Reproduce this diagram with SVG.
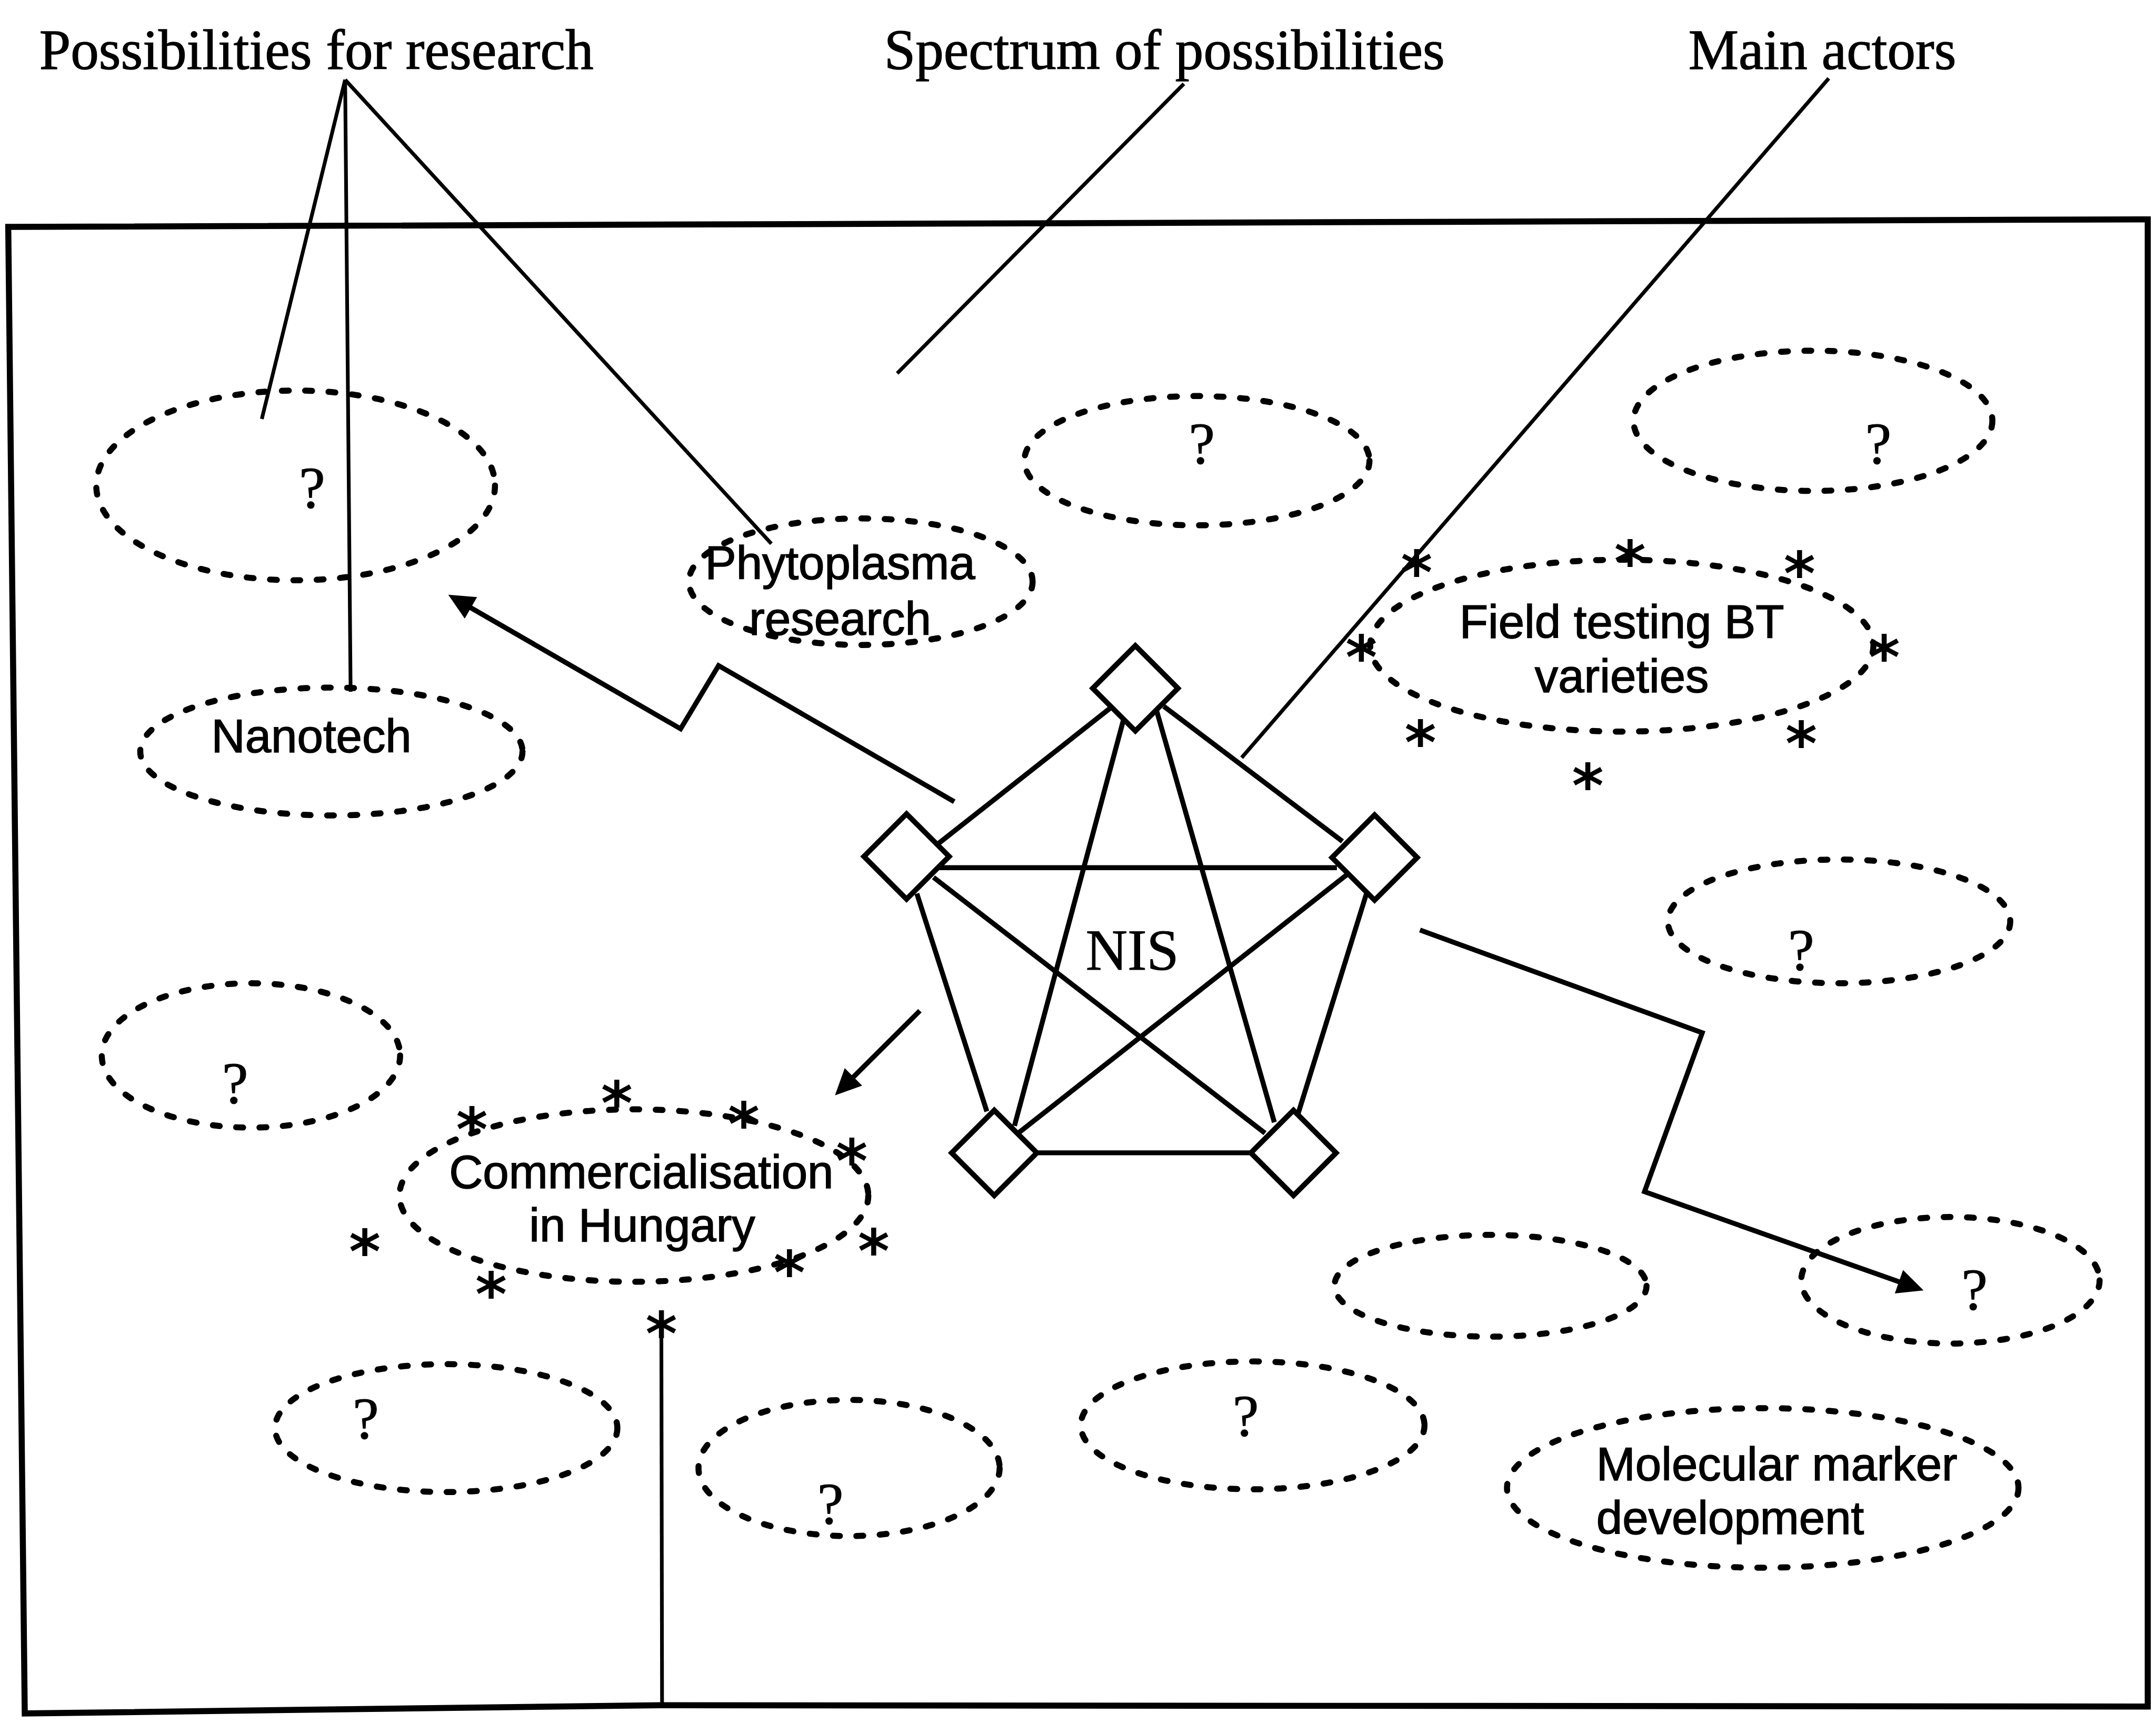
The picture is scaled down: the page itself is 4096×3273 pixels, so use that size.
<svg xmlns="http://www.w3.org/2000/svg" xmlns:xlink="http://www.w3.org/1999/xlink" width="4096" height="3273" viewBox="0 0 4096 3273">
  <style>
    .frame { fill: none; stroke: #000; stroke-width: 4.4; stroke-linejoin: miter; }
    .dash { fill: none; stroke: #000; stroke-width: 4.4; stroke-dasharray: 5 12; stroke-linecap: round; }
    .edge { fill: none; stroke: #000; stroke-width: 3.6; stroke-linejoin: miter; }
    .lead { fill: none; stroke: #000; stroke-width: 2.7; }
    .dia { fill: #fff; stroke: #000; stroke-width: 3.8; stroke-linejoin: miter; }
    .lbl { font-family: "Liberation Serif", "Times New Roman", serif; font-size: 41px; fill: #000; stroke: #000; stroke-width: 0.5; }
    .nis { font-family: "Liberation Serif", "Times New Roman", serif; font-size: 42px; fill: #000; text-anchor: middle; stroke: #000; stroke-width: 0.4; }
    .txt { font-family: "Liberation Sans", Arial, sans-serif; font-size: 34px; fill: #000; text-anchor: middle; stroke: #000; stroke-width: 0.6; }
    .txs { font-family: "Liberation Sans", Arial, sans-serif; font-size: 34px; fill: #000; stroke: #000; stroke-width: 0.6; }
    .q { font-family: "Liberation Serif", "Times New Roman", serif; font-size: 43px; fill: #000; text-anchor: middle; stroke: #000; stroke-width: 0.4; }
    .ast { font-family: "DejaVu Sans", sans-serif; font-size: 44px; font-weight: bold; fill: #000; text-anchor: middle; }
  </style>
  <defs>
    <marker id="ah" markerUnits="userSpaceOnUse" markerWidth="26" markerHeight="22" viewBox="-20 -11 26 22" refX="-6" refY="0" orient="auto">
      <path d="M0,0 L-19,-9 L-19,9 Z" fill="#000"/>
    </marker>
    <polygon id="diamond" points="0,-31 31,0 0,31 -31,0"/>
  </defs>

  <rect width="4096" height="3273" fill="#fff"/>

  <g transform="scale(2.612245)">
    <!-- outer frame -->
    <polygon class="frame" points="6,165 1562,159.5 1562,1241 480,1240 18,1246"/>

    <!-- heading labels -->
    <g id="label-research">
      <text class="lbl" x="28.6" y="50">Possibilities for research</text>
    </g>
    <g id="label-spectrum">
      <text class="lbl" x="643" y="50">Spectrum of possibilities</text>
    </g>
    <g id="label-actors">
      <text class="lbl" x="1228" y="50">Main actors</text>
    </g>

    <!-- dashed possibility ellipses -->
    <g id="opt-q1"><ellipse class="dash" cx="215" cy="353" rx="145" ry="69"/><text class="q" x="227" y="369">?</text></g>
    <g id="opt-phytoplasma"><ellipse class="dash" cx="626" cy="423" rx="125" ry="46"/>
      <text class="txt" x="611" y="421">Phytoplasma</text><text class="txt" x="611" y="461.5">research</text></g>
    <g id="opt-q2"><ellipse class="dash" cx="870.5" cy="335" rx="125.5" ry="47"/><text class="q" x="874" y="337">?</text></g>
    <g id="opt-q3"><ellipse class="dash" cx="1318.5" cy="306" rx="130.5" ry="51"/><text class="q" x="1366" y="337">?</text></g>
    <g id="opt-field-testing"><ellipse class="dash" cx="1179.5" cy="469.5" rx="183" ry="62.5"/>
      <text class="txt" x="1179.5" y="464">Field testing BT</text><text class="txt" x="1179.5" y="503.5">varieties</text>
      <g class="ast-set">
        <text class="ast" x="1030.3" y="432">*</text>
        <text class="ast" x="1185.5" y="424.4">*</text>
        <text class="ast" x="1308.8" y="432.7">*</text>
        <text class="ast" x="990.1" y="493.5">*</text>
        <text class="ast" x="1370.3" y="493.5">*</text>
        <text class="ast" x="1033" y="555.6">*</text>
        <text class="ast" x="1310" y="556.3">*</text>
        <text class="ast" x="1154.8" y="587">*</text>
      </g>
    </g>
    <g id="opt-nanotech"><ellipse class="dash" cx="241" cy="546.5" rx="139" ry="46.5"/><text class="txt" x="226.5" y="547">Nanotech</text></g>
    <g id="opt-q4"><ellipse class="dash" cx="1337.5" cy="670" rx="124.5" ry="45"/><text class="q" x="1310" y="705">?</text></g>
    <g id="opt-q5"><ellipse class="dash" cx="182.5" cy="767.5" rx="108.5" ry="52.5"/><text class="q" x="171" y="802">?</text></g>
    <g id="opt-commercialisation"><ellipse class="dash" cx="461" cy="869.4" rx="170.5" ry="62.7"/>
      <text class="txt" x="466.4" y="864">Commercialisation</text><text class="txt" x="467" y="902.7">in Hungary</text>
      <g class="ast-set">
        <text class="ast" x="343.2" y="836.8">*</text>
        <text class="ast" x="448.6" y="817.6">*</text>
        <text class="ast" x="540.9" y="833">*</text>
        <text class="ast" x="619.5" y="859.8">*</text>
        <text class="ast" x="265.3" y="925.8">*</text>
        <text class="ast" x="635.4" y="925.1">*</text>
        <text class="ast" x="574.1" y="941.1">*</text>
        <text class="ast" x="357.2" y="956.5">*</text>
        <text class="ast" x="481" y="985.3">*</text>
      </g>
    </g>
    <g id="opt-q6"><ellipse class="dash" cx="324.5" cy="1038.5" rx="124.5" ry="46.5"/><text class="q" x="266" y="1046">?</text></g>
    <g id="opt-q7"><ellipse class="dash" cx="617.5" cy="1067.5" rx="109.5" ry="49.5"/><text class="q" x="604" y="1108">?</text></g>
    <g id="opt-q8"><ellipse class="dash" cx="911" cy="1036.5" rx="125" ry="46.5"/><text class="q" x="906" y="1044">?</text></g>
    <g id="opt-blank"><ellipse class="dash" cx="1084" cy="935" rx="113.5" ry="37"/></g>
    <g id="opt-q9"><ellipse class="dash" cx="1418.5" cy="931" rx="108.5" ry="46"/><text class="q" x="1436" y="952">?</text></g>
    <g id="opt-molecular"><ellipse class="dash" cx="1282" cy="1082" rx="186" ry="58"/>
      <text class="txs" x="1161" y="1076.5">Molecular marker</text><text class="txs" x="1161" y="1115.7">development</text></g>

    <!-- connectors -->
    <g id="connectors">
      <!-- label leaders -->
      <path class="lead" d="M251,58 L190.4,304.7"/>
      <path class="lead" d="M251,58 L255,503"/>
      <path class="lead" d="M251,58 L561,395.4"/>
      <path class="lead" d="M861,61 L652.5,271.5"/>
      <path class="lead" d="M1330,57 L903,551"/>
      <!-- reach-out arrows from the NIS -->
      <path class="edge" d="M694,583 L522.6,484 L495,530 L331.2,435.5" marker-end="url(#ah)"/>
      <path class="edge" d="M669,735 L611.5,792.3" marker-end="url(#ah)"/>
      <path class="edge" d="M1032.7,676.3 L1238,751 L1196,866.6 L1393.3,936.4" marker-end="url(#ah)"/>
      <path class="lead" d="M481,972 L481.5,1240"/>
      <!-- NIS network links -->
      <path class="edge" d="M807.5,514.9 L682.9,613.1"/>
      <path class="edge" d="M846.4,513.6 L976.3,611.8"/>
      <path class="edge" d="M681.5,631 L972.3,631"/>
      <path class="edge" d="M666.8,649.8 L717.7,808.2"/>
      <path class="edge" d="M993.8,649.8 L944.2,809.5"/>
      <path class="edge" d="M752.6,838.3 L909.3,838.3"/>
      <path class="edge" d="M816.9,524.1 L737.8,818.7"/>
      <path class="edge" d="M841,516.2 L926.8,816.1"/>
      <path class="edge" d="M678.9,638 L920,824"/>
      <path class="edge" d="M980.4,635.4 L740.5,824"/>
    </g>

    <!-- NIS actors -->
    <g id="nis">
      <g id="actor-top"><use xlink:href="#diamond" href="#diamond" class="dia" x="825.7" y="500.5"/></g>
      <g id="actor-left"><use xlink:href="#diamond" href="#diamond" class="dia" x="659.3" y="622.8"/></g>
      <g id="actor-right"><use xlink:href="#diamond" href="#diamond" class="dia" x="999.7" y="623.6"/></g>
      <g id="actor-bottom-left"><use xlink:href="#diamond" href="#diamond" class="dia" x="723.1" y="838.4"/></g>
      <g id="actor-bottom-right"><use xlink:href="#diamond" href="#diamond" class="dia" x="940.7" y="838.4"/></g>
      <text class="nis" x="823.5" y="705">NIS</text>
    </g>
  </g>
</svg>
